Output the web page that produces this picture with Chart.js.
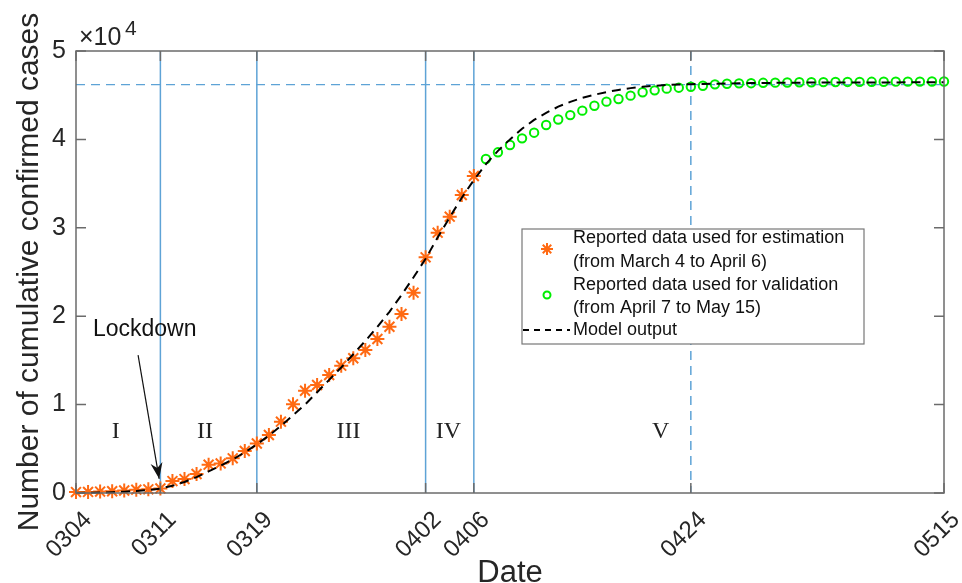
<!DOCTYPE html>
<html>
<head>
<meta charset="utf-8">
<script src="https://cdn.jsdelivr.net/npm/chart.js"></script>
<style>
  body { margin: 0; background: #fff; }
  #wrap { width: 962px; height: 583px; position: relative; }
</style>
</head>
<body>
<div id="wrap"><canvas id="chart"></canvas></div>
<script>
// x axis is days since March 4
const tickDays = [0, 7, 15, 29, 33, 51, 72];
const tickLabels = ['0304', '0311', '0319', '0402', '0406', '0424', '0515'];

// reported cases March 4 .. April 6 (day 0..33)
const estStartDay = 0;
const estimationCases = [100, 120, 160, 200, 280, 380, 420, 520, 1350, 1580, 2150, 3200, 3350, 3920, 4750, 5600,
  6560, 8070, 10030, 11570, 12220, 13350, 14400, 15240, 16180, 17420, 18810, 20250, 22660, 26660,
  29450, 31260, 33710, 35860];

// reported cases April 7 .. May 15 (day 34..72)
const valStartDay = 34;
const validationCases = [37780, 38540, 39370, 40120, 40760, 41630, 42250, 42750, 43250, 43810, 44270,
  44570, 44950, 45330, 45550, 45740, 45850, 45960, 46070, 46230, 46300, 46340, 46360, 46400, 46420,
  46440, 46460, 46470, 46480, 46490, 46500, 46510, 46515, 46520, 46530, 46535, 46540, 46545, 46550];

// model output day 0..72
const modelCases = [0, 20, 50, 90, 150, 230, 340, 500, 820, 1250, 1800, 2450, 3100, 3800, 4600, 5500,
  6500, 7600, 8800, 10000, 11400, 12800, 14200, 15700, 17200, 18800, 20500, 22400, 24400, 26500,
  28900, 31200, 33400, 35400, 37200, 38700, 40000, 41200, 42200, 43000, 43700, 44250, 44700, 45050,
  45350, 45600, 45800, 45950, 46070, 46150, 46210, 46250, 46280, 46300, 46330, 46350, 46370, 46385,
  46400, 46410, 46420, 46425, 46430, 46435, 46440, 46443, 46446, 46448, 46450, 46452, 46454, 46456, 46458];

const phaseDays = [7, 15, 29, 33];
const plateauDay = 51;
const plateauLevel = 46200;
const phaseNames = ['I', 'II', 'III', 'IV', 'V'];
const phaseNameDays = [3.3, 10.7, 22.6, 30.9, 48.5];

const orange = '#ff6a13';
const green = '#00ee00';
const blue = '#5ea3d6';
const textCol = '#262626';

function toPoints(start, vals) {
  return vals.map((v, i) => ({ x: start + i, y: v }));
}

function drawStar(ctx, x, y, r) {
  ctx.save();
  ctx.strokeStyle = orange;
  ctx.lineWidth = 2;
  ctx.beginPath();
  for (let k = 0; k < 4; k++) {
    let a = k * Math.PI / 4;
    ctx.moveTo(x - r * Math.cos(a), y - r * Math.sin(a));
    ctx.lineTo(x + r * Math.cos(a), y + r * Math.sin(a));
  }
  ctx.stroke();
  ctx.restore();
}

const extras = {
  id: 'extras',
  beforeDatasetsDraw(chart) {
    const { ctx, chartArea: a, scales: { x, y } } = chart;
    ctx.save();
    ctx.strokeStyle = blue;
    ctx.lineWidth = 1.5;
    phaseDays.forEach(d => {
      let px = x.getPixelForValue(d);
      ctx.beginPath(); ctx.moveTo(px, a.top); ctx.lineTo(px, a.bottom); ctx.stroke();
    });
    ctx.setLineDash([9, 6]);
    let px = x.getPixelForValue(plateauDay);
    ctx.beginPath(); ctx.moveTo(px, a.top); ctx.lineTo(px, a.bottom); ctx.stroke();
    let py = y.getPixelForValue(plateauLevel);
    ctx.lineWidth = 1.2;
    ctx.beginPath(); ctx.moveTo(a.left, py); ctx.lineTo(a.right, py); ctx.stroke();
    ctx.restore();
  },
  afterDatasetsDraw(chart) {
    const { ctx, chartArea: a, scales: { x, y } } = chart;
    ctx.save();
    // box + inner ticks (matlab style)
    ctx.strokeStyle = '#6b6b6b';
    ctx.lineWidth = 1.5;
    ctx.strokeRect(a.left, a.top, a.right - a.left, a.bottom - a.top);
    ctx.beginPath();
    y.ticks.forEach(t => {
      let py = y.getPixelForValue(t.value);
      ctx.moveTo(a.left, py); ctx.lineTo(a.left + 10, py);
      ctx.moveTo(a.right, py); ctx.lineTo(a.right - 10, py);
    });
    tickDays.forEach(d => {
      let px = x.getPixelForValue(d);
      ctx.moveTo(px, a.bottom); ctx.lineTo(px, a.bottom - 10);
      ctx.moveTo(px, a.top); ctx.lineTo(px, a.top + 10);
    });
    ctx.stroke();

    // phase names
    ctx.fillStyle = '#222';
    ctx.font = '24px "Liberation Serif", serif';
    ctx.textAlign = 'center';
    ctx.textBaseline = 'middle';
    phaseNames.forEach((n, i) => ctx.fillText(n, x.getPixelForValue(phaseNameDays[i]), y.getPixelForValue(6900)));

    // lockdown arrow
    ctx.font = '23px "Liberation Sans", Arial, sans-serif';
    ctx.textAlign = 'left';
    ctx.fillStyle = '#111';
    ctx.fillText('Lockdown', x.getPixelForValue(1.4), y.getPixelForValue(18450));
    let x0 = x.getPixelForValue(5.15), y0 = y.getPixelForValue(15600);
    let x1 = x.getPixelForValue(6.9), y1 = y.getPixelForValue(1600);
    ctx.strokeStyle = '#111';
    ctx.lineWidth = 1.2;
    ctx.beginPath(); ctx.moveTo(x0, y0); ctx.lineTo(x1, y1); ctx.stroke();
    let ang = Math.atan2(y1 - y0, x1 - x0);
    ctx.beginPath();
    ctx.moveTo(x1, y1);
    ctx.lineTo(x1 - 16 * Math.cos(ang) + 6 * Math.sin(ang), y1 - 16 * Math.sin(ang) - 6 * Math.cos(ang));
    ctx.lineTo(x1 - 11 * Math.cos(ang), y1 - 11 * Math.sin(ang));
    ctx.lineTo(x1 - 16 * Math.cos(ang) - 6 * Math.sin(ang), y1 - 16 * Math.sin(ang) + 6 * Math.cos(ang));
    ctx.closePath();
    ctx.fillStyle = '#111';
    ctx.fill();

    // legend
    let lx = 522, ly = 229, lw = 342, lh = 115;
    ctx.fillStyle = '#fff';
    ctx.fillRect(lx, ly, lw, lh);
    ctx.strokeStyle = '#777';
    ctx.lineWidth = 1.2;
    ctx.strokeRect(lx, ly, lw, lh);
    ctx.fillStyle = '#111';
    ctx.font = '18px "Liberation Sans", Arial, sans-serif';
    ctx.textBaseline = 'middle';
    ctx.fillText('Reported data used for estimation', lx + 51, ly + 9);
    ctx.fillText('(from March 4 to April 6)', lx + 51, ly + 33);
    ctx.fillText('Reported data used for validation', lx + 51, ly + 56);
    ctx.fillText('(from April 7 to May 15)', lx + 51, ly + 79);
    ctx.fillText('Model output', lx + 51, ly + 101);
    drawStar(ctx, lx + 25, ly + 20, 6);
    ctx.strokeStyle = green;
    ctx.lineWidth = 2;
    ctx.beginPath(); ctx.arc(lx + 25, ly + 66, 3.5, 0, Math.PI * 2); ctx.stroke();
    ctx.strokeStyle = '#000';
    ctx.setLineDash([6, 5]);
    ctx.beginPath(); ctx.moveTo(lx + 1, ly + 101); ctx.lineTo(lx + 48, ly + 101); ctx.stroke();
    ctx.setLineDash([]);

    // exponent
    ctx.fillStyle = textCol;
    ctx.font = '25px "Liberation Sans", Arial, sans-serif';
    ctx.textBaseline = 'alphabetic';
    ctx.fillText('\u00d710', a.left + 3, a.top - 6);
    ctx.font = '21px "Liberation Sans", Arial, sans-serif';
    ctx.fillText('4', a.left + 49, a.top - 16);
    ctx.restore();
  }
};

new Chart(document.getElementById('chart'), {
  type: 'line',
  data: {
    datasets: [
      {
        label: 'Reported data used for estimation (from March 4 to April 6)',
        data: toPoints(estStartDay, estimationCases),
        showLine: false,
        pointStyle: 'star',
        pointRadius: 7,
        borderColor: orange,
        backgroundColor: orange,
        pointBorderWidth: 2,
        clip: false,
        order: 1
      },
      {
        label: 'Reported data used for validation (from April 7 to May 15)',
        data: toPoints(valStartDay, validationCases),
        showLine: false,
        pointStyle: 'circle',
        pointRadius: 4.2,
        borderColor: green,
        backgroundColor: 'rgba(0,0,0,0)',
        pointBorderWidth: 2,
        clip: false,
        order: 2
      },
      {
        label: 'Model output',
        data: toPoints(0, modelCases),
        borderColor: '#000',
        borderWidth: 2,
        borderDash: [9, 6],
        pointRadius: 0,
        tension: 0,
        clip: false,
        order: 0
      }
    ]
  },
  options: {
    responsive: true,
    maintainAspectRatio: false,
    animation: false,
    layout: { padding: { left: 0, top: 51, right: 18, bottom: 0 } },
    plugins: { legend: { display: false }, tooltip: { enabled: false } },
    scales: {
      x: {
        type: 'linear',
        min: 0,
        max: 72,
        grid: { display: false, drawTicks: false, tickLength: 0 },
        border: { display: false },
        afterBuildTicks: s => { s.ticks = tickDays.map(v => ({ value: v })); },
        afterFit: s => { s.height = 90; s.paddingLeft = 0; s.paddingRight = 0; },
        ticks: {
          autoSkip: false,
          minRotation: 45,
          maxRotation: 45,
          padding: 13,
          labelOffset: 12,
          color: textCol,
          font: { family: '"Liberation Sans", Arial, sans-serif', size: 24 },
          callback: v => tickLabels[tickDays.indexOf(v)]
        },
        title: {
          display: true,
          text: 'Date',
          color: textCol,
          font: { family: '"Liberation Sans", Arial, sans-serif', size: 31 },
          padding: { top: 0, bottom: -9 }
        }
      },
      y: {
        min: 0,
        max: 50000,
        grid: { display: false, drawTicks: false, tickLength: 0 },
        border: { display: false },
        afterFit: s => { s.width = 76; s.paddingTop = 0; s.paddingBottom = 0; },
        ticks: {
          stepSize: 10000,
          padding: 10,
          color: textCol,
          font: { family: '"Liberation Sans", Arial, sans-serif', size: 25 },
          callback: v => v / 10000
        },
        title: {
          display: true,
          text: 'Number of cumulative confirmed cases',
          color: textCol,
          font: { family: '"Liberation Sans", Arial, sans-serif', size: 30 },
          padding: { top: 12, bottom: 0 }
        }
      }
    }
  },
  plugins: [extras]
});
</script>
</body>
</html>
